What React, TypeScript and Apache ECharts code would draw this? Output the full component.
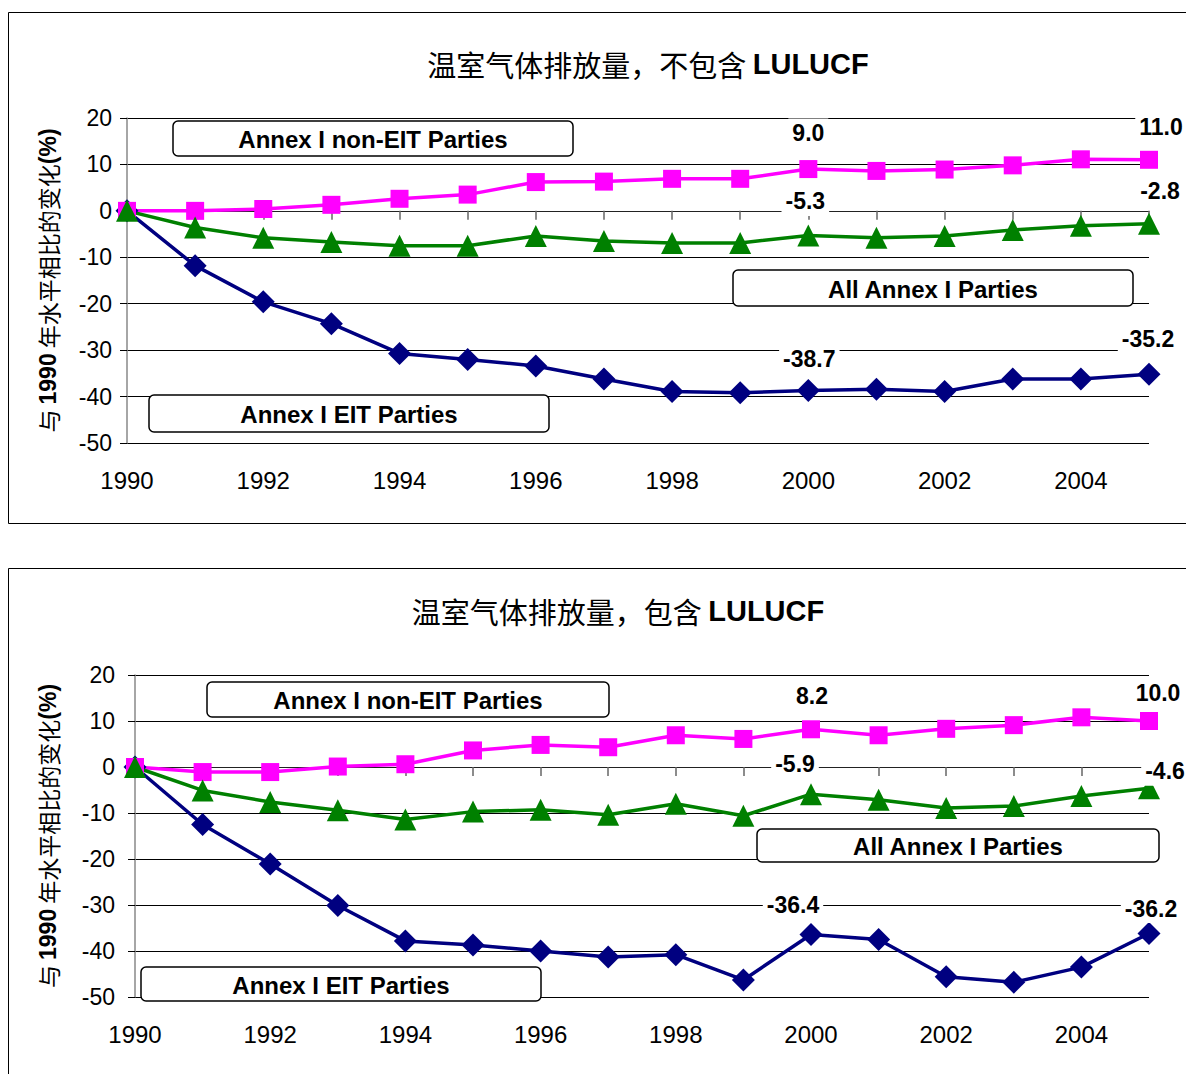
import React, { useEffect, useRef } from "react";
import * as echarts from "echarts";

const years = ["1990","1991","1992","1993","1994","1995","1996","1997","1998","1999","2000","2001","2002","2003","2004","2005"];

// Chart 1: excluding LULUCF
const nonEIT1 = [0, 0, 0.4, 1.3, 2.6, 3.5, 6.2, 6.3, 6.9, 6.9, 9.0, 8.6, 8.9, 9.8, 11.1, 11.0];
const all1 = [0, -3.6, -5.8, -6.7, -7.5, -7.5, -5.4, -6.5, -6.9, -6.9, -5.3, -5.8, -5.4, -4.1, -3.2, -2.8];
const eit1 = [0, -11.8, -19.6, -24.3, -30.7, -32.0, -33.4, -36.2, -38.9, -39.2, -38.7, -38.4, -38.9, -36.2, -36.2, -35.2];

// Chart 2: including LULUCF
const nonEIT2 = [0, -1.1, -1.1, 0.1, 0.6, 3.6, 4.8, 4.3, 6.9, 6.1, 8.2, 6.9, 8.3, 9.1, 10.8, 10.0];
const all2 = [0, -5.1, -7.6, -9.4, -11.4, -9.7, -9.3, -10.4, -8.0, -10.6, -5.9, -7.1, -8.9, -8.5, -6.3, -4.6];
const eit2 = [0, -12.5, -21.1, -30.1, -37.8, -38.7, -40.0, -41.3, -40.8, -46.3, -36.4, -37.5, -45.6, -46.8, -43.5, -36.2];

const title1 = ["温室气体排放量，不包含 ", "LULUCF"];
const title2 = ["温室气体排放量，包含 ", "LULUCF"];
const yName = ["与 ", "1990", " 年水平相比的变化", "(%)"];
const seriesNames = ["Annex I EIT Parties", "Annex I non-EIT Parties", "All Annex I Parties"];
const boxLabels = ["Annex I non-EIT Parties", "Annex I EIT Parties", "All Annex I Parties"];

const FONT = "'Liberation Sans', Arial, sans-serif";
const CJK = "'Noto Sans CJK SC', 'Liberation Serif', serif";

const PINK = "#FF00FF";
const GREEN = "#008000";
const NAVY = "#000080";

type LabelSpec = { i: number; offset: [number, number] };

function buildData(values: number[], specs: LabelSpec[]) {
  return values.map((v, i) => {
    const s = specs.find((x) => x.i === i);
    if (!s) return v;
    return {
      value: v,
      label: {
        show: true,
        position: "inside",
        offset: s.offset,
        formatter: (p: any) => Number(p.value).toFixed(1),
        fontFamily: FONT,
        fontSize: 23,
        fontWeight: "bold",
        color: "#000",
        backgroundColor: "#fff",
        padding: [3, 4, 3, 4],
      },
    };
  });
}

function makeSeries(name: string, values: number[], color: string, symbol: string, size: number, specs: LabelSpec[], idx: number) {
  return {
    name,
    type: "line",
    xAxisIndex: idx,
    yAxisIndex: idx,
    data: buildData(values, specs),
    symbol,
    symbolSize: size,
    showAllSymbol: true,
    lineStyle: { color, width: 3.5 },
    itemStyle: { color },
    label: { show: false },
    emphasis: { disabled: true },
  };
}

function box(x: number, y: number, w: number, h: number, text: string) {
  return {
    type: "group",
    z: 20,
    children: [
      {
        type: "rect",
        shape: { x, y, width: w, height: h, r: 5 },
        style: { fill: "#fff", stroke: "#000", lineWidth: 1.5 },
        z: 20,
      },
      {
        type: "text",
        x: x + w / 2,
        y: y + h / 2 + 1,
        z: 21,
        style: {
          text,
          fontFamily: FONT,
          fontSize: 24,
          fontWeight: "bold",
          fill: "#000",
          align: "center",
          verticalAlign: "middle",
        },
      },
    ],
  };
}

function titleText(cx: number, cy: number, parts: string[]) {
  return {
    type: "text",
    x: cx,
    y: cy,
    z: 20,
    style: {
      text: `{a|${parts[0]}}{b|${parts[1]}}`,
      align: "center",
      verticalAlign: "middle",
      rich: {
        a: { fontFamily: CJK, fontSize: 29, fill: "#000", fontWeight: "normal" },
        b: { fontFamily: FONT, fontSize: 29, fill: "#000", fontWeight: "bold" },
      },
    },
  };
}

function xAxis(idx: number) {
  return {
    type: "category",
    gridIndex: idx,
    data: years,
    boundaryGap: false,
    axisLine: { show: true, lineStyle: { color: "#222", width: 1 } },
    axisTick: { show: true, interval: 0, length: 9, lineStyle: { color: "#666", width: 1.5 } },
    axisLabel: { interval: 1, margin: 25, fontFamily: FONT, fontSize: 24, color: "#000" },
    splitLine: { show: false },
  };
}

function yAxis(idx: number, labelMargin: number, nameGap: number) {
  return {
    type: "value",
    gridIndex: idx,
    min: -50,
    max: 20,
    interval: 10,
    name: `{a|${yName[0]}}{b|${yName[1]}}{a|${yName[2]}}{b|${yName[3]}}`,
    nameLocation: "middle",
    nameRotate: 90,
    nameGap,
    nameTextStyle: {
      rich: {
        a: { fontFamily: CJK, fontSize: 23, color: "#000", fontWeight: "normal" },
        b: { fontFamily: FONT, fontSize: 23, color: "#000", fontWeight: "bold" },
      },
    },
    axisLine: { show: true, lineStyle: { color: "#888", width: 1.5 } },
    axisTick: { show: true, length: 7, lineStyle: { color: "#000", width: 1 } },
    axisLabel: { margin: labelMargin, fontFamily: FONT, fontSize: 23, color: "#000" },
    splitLine: { show: true, lineStyle: { color: "#000", width: 1 } },
  };
}

export default function App() {
  const ref = useRef<HTMLDivElement>(null);
  useEffect(() => {
    if (!ref.current) return;
    const chart = echarts.init(ref.current, undefined, { renderer: "svg" });
    const option: any = {
      animation: false,
      backgroundColor: "#fff",
      grid: [
        { left: 127, right: 37, top: 118, height: 325, containLabel: false },
        { left: 135, right: 37, top: 675, height: 322, containLabel: false },
      ],
      xAxis: [xAxis(0), xAxis(1)],
      yAxis: [yAxis(0, 15, 68), yAxis(1, 20, 76)],
      series: [
        makeSeries(seriesNames[0], eit1, NAVY, "diamond", 23, [
          { i: 10, offset: [1, -32] },
          { i: 15, offset: [-1, -35] },
        ], 0),
        makeSeries(seriesNames[1], nonEIT1, PINK, "rect", 18, [
          { i: 10, offset: [0, -36] },
          { i: 15, offset: [12, -33] },
        ], 0),
        makeSeries(seriesNames[2], all1, GREEN, "triangle", 22, [
          { i: 10, offset: [-3, -34] },
          { i: 15, offset: [11, -33] },
        ], 0),
        makeSeries(seriesNames[0], eit2, NAVY, "diamond", 23, [
          { i: 10, offset: [-18, -29] },
          { i: 15, offset: [2, -25] },
        ], 1),
        makeSeries(seriesNames[1], nonEIT2, PINK, "rect", 18, [
          { i: 10, offset: [1, -33] },
          { i: 15, offset: [9, -28] },
        ], 1),
        makeSeries(seriesNames[2], all2, GREEN, "triangle", 22, [
          { i: 10, offset: [-16, -30] },
          { i: 15, offset: [16, -17] },
        ], 1),
      ],
      graphic: [
        {
          type: "rect",
          z: 0,
          shape: { x: 8.5, y: 12.5, width: 1200, height: 511 },
          style: { fill: "none", stroke: "#000", lineWidth: 1 },
        },
        {
          type: "rect",
          z: 0,
          shape: { x: 8.5, y: 568.5, width: 1200, height: 540 },
          style: { fill: "none", stroke: "#000", lineWidth: 1 },
        },
        titleText(648, 64, title1),
        titleText(618, 611, title2),
        box(173, 121, 400, 35, boxLabels[0]),
        box(149, 395, 400, 37, boxLabels[1]),
        box(733, 270, 400, 36, boxLabels[2]),
        box(207, 682, 402, 35, boxLabels[0]),
        box(141, 967, 400, 34, boxLabels[1]),
        box(757, 829, 402, 33, boxLabels[2]),
      ],
    };
    chart.setOption(option);
    return () => chart.dispose();
  }, []);
  return (
    <div
      ref={ref}
      style={{ position: "absolute", left: 0, top: 0, width: 1186, height: 1074, background: "#fff" }}
    />
  );
}
